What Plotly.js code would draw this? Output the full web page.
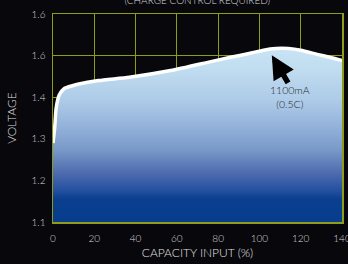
<!DOCTYPE html>
<html>
<head>
<meta charset="utf-8">
<script src="https://cdn.plot.ly/plotly-3.0.1.min.js"></script>
<style>html,body{margin:0;padding:0;background:#07070c;}#chart{width:348px;height:264px;}</style>
</head>
<body>
<div id="chart"></div>
<script>
const capacity = [0, 0.8, 1.5, 3, 5.5, 9, 12, 22, 37, 57, 76, 86, 95, 102, 108, 114, 120, 128, 134, 140];
const voltage  = [1.29, 1.325, 1.373, 1.405, 1.421, 1.427, 1.431, 1.440, 1.448, 1.464, 1.485, 1.496, 1.505, 1.513, 1.517, 1.517, 1.513, 1.503, 1.496, 1.488];
const xTicks = [0, 20, 40, 60, 80, 100, 120, 140];
const yTickVals = [1.1, 1.2, 1.3, 1.4, 1.5, 1.6];
const yTickText = ["1.1", "1.2", "1.3", "1.4", "1.6", "1.6"];
const titleText = "(CHARGE CONTROL REQUIRED)";
const noteText = "1100mA<br>(0.5C)";

const grid = "#8e9c18";
const font = "Lato, 'Open Sans', sans-serif";

const trace = {
  x: capacity, y: voltage, type: "scatter", mode: "lines",
  line: {color: "#ffffff", width: 3.5, shape: "spline", smoothing: 0.6},
  fill: "tozeroy",
  fillgradient: {type: "vertical", start: 1.1, stop: 1.52,
    colorscale: [[0, "#083c8c"], [0.13, "#0a3e8e"], [0.18, "#2450a0"], [0.27, "#4a68ac"],
                 [0.41, "#7898c8"], [0.58, "#9ab8de"], [0.7, "#aecbe8"], [0.87, "#c0dcf0"], [1, "#c8e4f4"]]},
  hoverinfo: "skip", showlegend: false
};

const layout = {
  width: 348, height: 264,
  margin: {l: 53, r: 6, t: 14, b: 42},
  paper_bgcolor: "#07070c", plot_bgcolor: "#07070c",
  font: {family: font, color: "#d8d8d8", size: 10, weight: 300},
  title: {text: titleText, x: 0.567, xanchor: "center", y: 1, yref: "container", yanchor: "middle",
          font: {family: font, size: 10, color: "#d8d8d8", weight: 300}},
  xaxis: {range: [0, 140], tickvals: xTicks, showgrid: true, gridcolor: grid, gridwidth: 1,
          showline: true, linecolor: grid, linewidth: 1.5, mirror: true, zeroline: false,
          ticks: "", ticklabelstandoff: 6, ticklabeloverflow: "allow",
          tickfont: {size: 10, color: "#d8d8d8", weight: 300},
          title: {text: "CAPACITY INPUT (%)", font: {size: 12, color: "#e0e0e0", weight: 300}, standoff: 6}},
  yaxis: {range: [1.1, 1.6], tickvals: yTickVals, ticktext: yTickText, showgrid: true, gridcolor: grid, gridwidth: 1,
          showline: true, linecolor: grid, linewidth: 1.5, mirror: true, zeroline: false,
          ticks: "", ticklabelstandoff: 4, tickfont: {size: 10, color: "#d8d8d8", weight: 300},
          title: {text: "VOLTAGE", font: {size: 12, color: "#e0e0e0", weight: 300}, standoff: 12}},
  annotations: [
    {x: 106, y: 1.501, xref: "x", yref: "y", ax: 114.3, ay: 1.431, axref: "x", ayref: "y",
     text: "", showarrow: true, arrowhead: 2, arrowsize: 0.85, arrowwidth: 5.5, arrowcolor: "#000000"},
    {x: 114.8, y: 1.401, xref: "x", yref: "y", text: noteText, showarrow: false,
     font: {family: font, size: 10.5, color: "#1e1e1e"}}
  ]
};

Plotly.newPlot("chart", [trace], layout, {staticPlot: true, displayModeBar: false});
</script>
</body>
</html>
